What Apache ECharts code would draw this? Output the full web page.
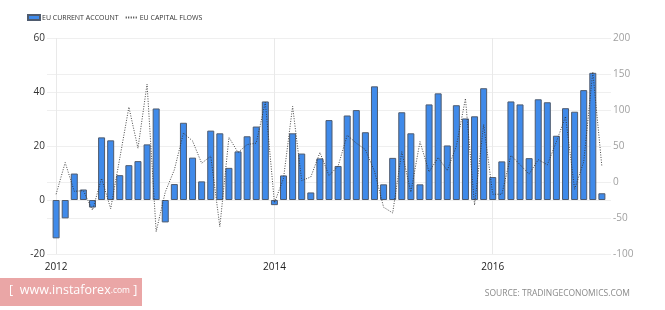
<!DOCTYPE html>
<html>
<head>
<meta charset="utf-8">
<script src="https://cdn.jsdelivr.net/npm/echarts@6/dist/echarts.min.js"></script>
<style>
html,body{margin:0;padding:0;background:#fff;}
#c{width:665px;height:310px;}
</style>
</head>
<body>
<div id="c"></div>
<script>
// Monthly categories Jan 2012 .. Jan 2017 (padded by one empty month on each side)
var startYear = 2012, monthCount = 61;
var months = [];
for (var i = 0; i < monthCount; i++) {
  var y = startYear + Math.floor(i / 12), m = (i % 12) + 1;
  months.push(y + '-' + (m < 10 ? '0' + m : m));
}
var categories = ['2011-12'].concat(months, ['2017-02']);
var yearLabels = ['2012', '2014', '2016'];

// EU current account (left axis, EUR bn)
var currentAccount = [
  -14.2, -6.8, 9.8, 3.9, -2.8, 23.2, 22.1, 9.2, 12.9, 14.4, 20.6, 33.9,
  -8.3, 5.9, 28.6, 15.7, 6.9, 25.7, 24.7, 11.9, 18.0, 23.6, 27.2, 36.5,
  -1.9, 9.1, 24.7, 17.2, 2.8, 15.4, 29.6, 12.6, 31.3, 33.3, 25.1, 42.1,
  5.8, 15.6, 32.5, 24.7, 5.8, 35.4, 39.5, 20.2, 35.1, 30.2, 31.0, 41.4,
  8.5, 14.3, 36.5, 35.4, 15.5, 37.3, 36.2, 23.8, 34.0, 32.7, 40.7, 47.1,
  2.5
];
// EU capital flows (right axis)
var capitalFlows = [
  -17, 27, -13, -12, -39, 5, -37, 33, 104, 47, 136, -69,
  -14, 17, 68, 57, 26, 36, -62, 62, 41, 52, 54, 111,
  -29, 5, 105, 2, 7, 41, 9, 22, 65, 54, 45, 15,
  -35, -43, 42, -14, 56, 14, 34, 16, 50, 116, -32, 80,
  -17, -17, 37, 24, 11, 31, 24, 56, 91, -10, 28, 153,
  21
];

var barData = [null].concat(currentAccount, [null]);
var lineData = [null].concat(capitalFlows, [null]);

function isYearTick(idx, val) {
  return yearLabels.indexOf(val.slice(0, 4)) >= 0 && val.slice(5) === '01';
}

var chart = echarts.init(document.getElementById('c'), null, {renderer: 'canvas'});
chart.setOption({
  animation: false,
  textStyle: {fontFamily: 'Open Sans'},
  legend: {
    left: 22, top: 9,
    itemWidth: 12, itemHeight: 5, itemGap: 6,
    textStyle: {fontSize: 7, color: '#333', fontFamily: 'Open Sans', padding: [0, 0, 0, -3]},
    data: [
      {name: 'EU CURRENT ACCOUNT', icon: 'rect'},
      {name: 'EU CAPITAL FLOWS', itemStyle: {opacity: 0}}
    ]
  },
  grid: {left: 47, right: 54, top: 38, bottom: 56, containLabel: false},
  xAxis: {
    type: 'category',
    data: categories,
    boundaryGap: false,
    axisLine: {show: false},
    axisTick: {show: false},
    axisLabel: {
      interval: isYearTick,
      formatter: function (v) { return v.slice(0, 4); },
      fontSize: 10, color: '#222', margin: 8
    },
    splitLine: {show: true, interval: isYearTick, lineStyle: {color: '#e9e9e9', width: 1}}
  },
  yAxis: [
    {
      type: 'value', min: -20, max: 60, interval: 20, position: 'left',
      axisLine: {show: false}, axisTick: {show: false},
      axisLabel: {fontSize: 10, color: '#333', margin: 2},
      splitLine: {lineStyle: {color: '#efefef', width: 1}}
    },
    {
      type: 'value', min: -100, max: 200, interval: 50, position: 'right',
      axisLine: {show: false}, axisTick: {show: false},
      axisLabel: {fontSize: 10, color: '#a0a0a0', margin: 2},
      splitLine: {lineStyle: {color: '#efefef', width: 1}}
    }
  ],
  series: [
    {
      name: 'EU CURRENT ACCOUNT',
      type: 'bar',
      yAxisIndex: 0,
      data: barData,
      barWidth: 7,
      itemStyle: {color: '#3f8aea', borderColor: '#4f5b6e', borderWidth: 1}
    },
    {
      name: 'EU CAPITAL FLOWS',
      type: 'line',
      yAxisIndex: 1,
      data: lineData,
      symbol: 'none',
      connectNulls: false,
      lineStyle: {color: '#333', width: 0.9, type: [1, 1.5]},
      itemStyle: {color: '#333'}
    }
  ],
  graphic: [
    {
      type: 'rect', left: 0, top: 278,
      shape: {width: 142, height: 28},
      style: {fill: '#eaa6a6'}
    },
    {
      type: 'text', left: 9, top: 284,
      style: {
        text: '{b|[}  {w|www.instaforex}{c|.com} {b|]}',
        rich: {
          b: {fontSize: 12.5, fill: '#fff', fontFamily: 'Open Sans'},
          w: {fontSize: 12.5, fill: '#fff', fontFamily: 'Open Sans'},
          c: {fontSize: 8.5, fill: '#fff', fontFamily: 'Open Sans'}
        }
      }
    },
    {
      type: 'text', right: 35, top: 289,
      style: {
        text: 'SOURCE: TRADINGECONOMICS.COM',
        fontSize: 8.5, fill: '#8a8a8a', fontFamily: 'Open Sans'
      }
    }
  ]
});
</script>
</body>
</html>
